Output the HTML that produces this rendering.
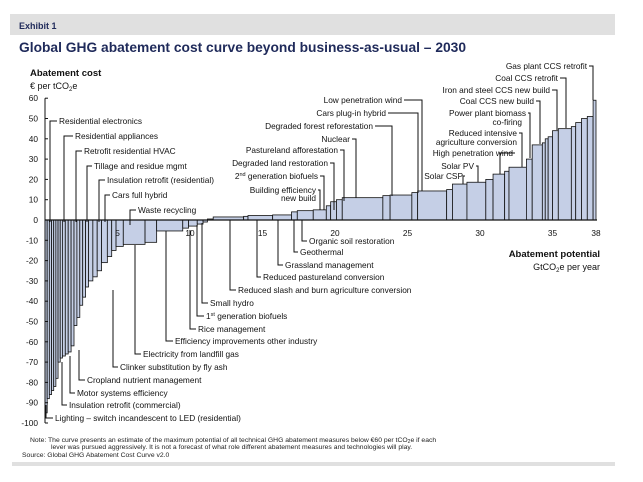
<!DOCTYPE html>
<html><head><meta charset="utf-8"><style>
html,body{margin:0;padding:0;background:#fff;}
body{width:643px;height:477px;overflow:hidden;position:relative;font-family:"Liberation Sans",Arial,sans-serif;}
svg text{font-family:"Liberation Sans",Arial,sans-serif;}
</style></head><body>
<svg id="chart" width="643" height="477" viewBox="0 0 643 477" xmlns="http://www.w3.org/2000/svg">
<rect x="10" y="14" width="605" height="21" fill="#e0e0e0"/>
<text x="19" y="29" font-size="9" font-weight="bold" fill="#1f2a5a">Exhibit 1</text>
<text x="19" y="52" font-size="13.8" font-weight="bold" fill="#1f2a5a">Global GHG abatement cost curve beyond business-as-usual – 2030</text>
<text x="30" y="76" font-size="9.5" font-weight="bold" fill="#111">Abatement cost</text>
<text x="30" y="89" font-size="9" fill="#111">€ per tCO<tspan font-size="6" dy="2">2</tspan><tspan dy="-2">e</tspan></text>
<text x="600" y="257" font-size="9.5" font-weight="bold" fill="#111" text-anchor="end">Abatement potential</text>
<text x="600" y="270" font-size="9" fill="#111" text-anchor="end">GtCO<tspan font-size="6" dy="2">2</tspan><tspan dy="-2">e per year</tspan></text>
<g id="bars"></g>
<g id="axes"></g>
<g id="labels" font-size="8.3" fill="#111"></g>
<text x="30" y="442" font-size="6.8" fill="#222">Note: The curve presents an estimate of the maximum potential of all technical GHG abatement measures below €60 per tCO<tspan font-size="5" dy="1">2</tspan><tspan dy="-1">e if each</tspan></text>
<text x="51" y="449" font-size="6.8" fill="#222">lever was pursued aggressively. It is not a forecast of what role different abatement measures and technologies will play.</text>
<text x="22" y="457" font-size="6.8" fill="#222">Source: Global GHG Abatement Cost Curve v2.0</text>
<rect x="12" y="462" width="603" height="4" fill="#e0e0e0"/>
</svg>
<script>
const widths = [0.15,0.15,0.15,0.15,0.15,0.15,0.15,0.15,0.2,0.2,0.2,0.2,0.2,0.2,0.2,0.2,0.2,0.3,0.3,0.3,0.4,0.3,0.3,0.5,1.5,0.8,1.8,0.4,0.6,0.4,0.3,0.4,2.1,0.3,1.7,1.3,0.4,1.1,0.9,0.3,0.4,0.4,2.8,0.5,1.5,0.4,2.0,0.4,1.0,1.3,0.5,0.8,0.3,1.2,0.4,0.7,0.2,0.2,0.3,0.4,0.9,0.3,0.4,0.4,0.4,0.2];
const costs = [-95,-88,-86,-84,-82,-78,-70,-68,-67,-66,-65,-62,-52,-48,-42,-38,-33,-30,-28,-25,-21,-18,-15,-13,-12,-11,-5.4,-4,-3,-2,-1,0.5,1.5,1.8,2.2,2.5,4,4.6,5,7,9,10,11,12,12.3,13.5,14.3,15,17.7,18.6,20,22.6,24,26,30,37,38,40,41,44,45,46,48,50,51,59];
const yTicks = [60,50,40,30,20,10,0,-10,-20,-30,-40,-50,-60,-70,-80,-90,-100];
const xTicks = [5,10,15,20,25,30,35,38];

const NS = "http://www.w3.org/2000/svg";
const X0 = 45, XS = 14.5, Y0 = 220, YS = 2.03;
function xs(v){return X0 + v*XS;}
function ys(v){return Y0 - v*YS;}
function mk(tag, attrs, parent){const e=document.createElementNS(NS,tag);for(const k in attrs)e.setAttribute(k,attrs[k]);parent.appendChild(e);return e;}

const barsG = document.getElementById('bars');
let cum = 0;
for (let i=0;i<widths.length;i++){
  const x1 = xs(cum), x2 = xs(cum+widths[i]);
  const yv = ys(costs[i]);
  const r = mk('rect',{x:x1,y:Math.min(yv,Y0),width:Math.max(x2-x1,0.5),height:Math.abs(yv-Y0),fill:'#c5cfe6',stroke:'#111','stroke-width':0.8},barsG);
  
  
  cum += widths[i];
}

const axesG = document.getElementById('axes');
const ya = mk('line',{x1:X0,y1:ys(60),x2:X0,y2:ys(-100),stroke:'#111','stroke-width':1},axesG);


const xa = mk('line',{x1:X0,y1:Y0,x2:xs(38)+1,y2:Y0,stroke:'#111','stroke-width':1.2},axesG);


yTicks.forEach(v=>{
  const t = mk('line',{x1:X0,y1:ys(v),x2:X0+3,y2:ys(v),stroke:'#111','stroke-width':1},axesG);
  
  
  const l = mk('text',{x:X0-7,y:ys(v)+3,'font-size':8.3,'text-anchor':'end',fill:'#111'},axesG);
  l.textContent = v;
  
  
});
xTicks.forEach(v=>{
  const l = mk('text',{x:xs(v),y:Y0+16,'font-size':8.3,'text-anchor':'middle',fill:'#111'},axesG);
  l.textContent = v;
  
  
});

const labelsG = document.getElementById('labels');
const callouts = [
 ['Residential electronics',59,121,50,222,'start'],
 ['Residential appliances',75,136,64,222,'start'],
 ['Retrofit residential HVAC',84,151,76,222,'start'],
 ['Tillage and residue mgmt',94,166,87,222,'start'],
 ['Insulation retrofit (residential)',107,180,99,222,'start'],
 ['Cars full hybrid',112,195,105,222,'start'],
 ['Waste recycling',138,210,130,225,'start'],
 ['Lighting – switch incandescent to LED (residential)',55,418,46,405,'start'],
 ['Insulation retrofit (commercial)',69,405,62,362,'start'],
 ['Motor systems efficiency',77,393,70,356,'start'],
 ['Cropland nutrient management',87,380,79,350,'start'],
 ['Clinker substitution by fly ash',120,367,113,290,'start'],
 ['Electricity from landfill gas',143,354,135,245,'start'],
 ['Efficiency improvements other industry',175,341,166,231,'start'],
 ['Rice management',198,329,190,230,'start'],
 ['1st generation biofuels',206,316,197,225,'start'],
 ['Small hydro',210,303,202,223,'start'],
 ['Reduced slash and burn agriculture conversion',238,290,230,220,'start'],
 ['Reduced pastureland conversion',263,277,257,220,'start'],
 ['Grassland management',285,265,278,220,'start'],
 ['Geothermal',300,252,294,220,'start'],
 ['Organic soil restoration',309,241,302,220,'start'],
 ['Building efficiency',316,190,320,210,'end'],
 ['2nd generation biofuels',318,176,324,210,'end'],
 ['Degraded land restoration',328,163,334,210,'end'],
 ['Pastureland afforestation',338,150,344,201,'end'],
 ['Nuclear',350,139,356,198,'end'],
 ['Degraded forest reforestation',373,126,392,196,'end'],
 ['Cars plug-in hybrid',386,113,418,193,'end'],
 ['Low penetration wind',402,100,422,191,'end'],
 ['Solar CSP',463,176,463,184,'end'],
 ['Solar PV',474,166,478,182,'end'],
 ['High penetration wind',513,153,500,174,'end'],
 ['Reduced intensive',517,133,522,167,'end'],
 ['Power plant biomass',526,113,530,158,'end'],
 ['Coal CCS new build',534,101,540,144,'end'],
 ['Iron and steel CCS new build',550,90,557,130,'end'],
 ['Coal CCS retrofit',558,78,566,128,'end'],
 ['Gas plant CCS retrofit',587,66,593,100,'end']
];
const extraLines = [['new build',316,198],['agriculture conversion',517,142],['co-firing',522,122]];
callouts.forEach(c=>{
  const [txt,tx,ty,lx,le,anc] = c;
  const t = mk('text',{x:tx,y:ty+3,'text-anchor':anc},labelsG);
  if (txt==='1st generation biofuels'){ t.innerHTML='1<tspan font-size="5.5" dy="-3">st</tspan><tspan dy="3"> generation biofuels</tspan>'; }
  else if (txt==='2nd generation biofuels'){ t.innerHTML='2<tspan font-size="5.5" dy="-3">nd</tspan><tspan dy="3"> generation biofuels</tspan>'; }
  else t.textContent = txt;
  
  
  const p = mk('path',{d:'M'+(anc==='start'?tx-2:tx+2)+' '+ty+' H'+lx+' V'+le,fill:'none',stroke:'#111','stroke-width':1},labelsG);
  
  
});
extraLines.forEach(e=>{
  const t = mk('text',{x:e[1],y:e[2]+3,'text-anchor':'end'},labelsG);
  t.textContent = e[0];
  
  
});
</script>
</body></html>
